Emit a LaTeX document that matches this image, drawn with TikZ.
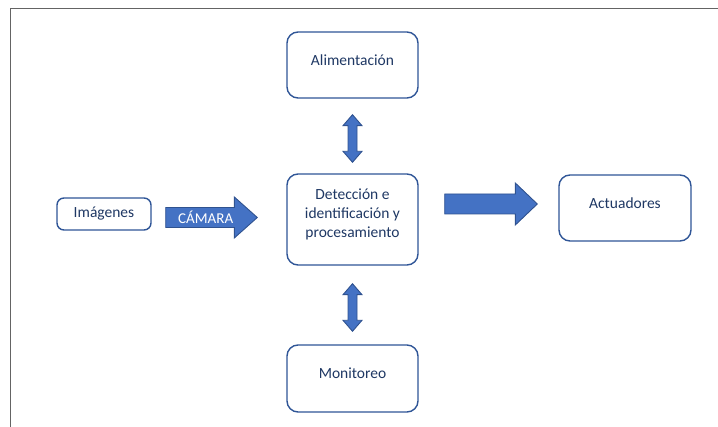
\documentclass[tikz,border=0pt]{standalone}
\usepackage{fontspec}
\setmainfont{Carlito}
\usetikzlibrary{calc}

\definecolor{boxline}{RGB}{47,85,151}
\definecolor{arrowfill}{RGB}{68,114,196}
\definecolor{arrowline}{RGB}{47,82,143}
\definecolor{labeltext}{RGB}{31,56,100}
\definecolor{framegray}{RGB}{100,100,100}

% horizontal block arrow: start, tip, half body, half head, head length
\newcommand{\blockarrowH}[5]{%
  \draw[blockarrow] let \p1=(#1), \p2=(#2) in
    (\x1,\y1+#3) -- (\x2-#5,\y1+#3) -- (\x2-#5,\y1+#4) -- (\x2,\y1)
    -- (\x2-#5,\y1-#4) -- (\x2-#5,\y1-#3) -- (\x1,\y1-#3) -- cycle;}
% vertical double block arrow: top tip, bottom tip, half body, half head, head length
\newcommand{\blockarrowV}[5]{%
  \draw[blockarrow] let \p1=(#1), \p2=(#2) in
    (\x1,\y1) -- (\x1+#4,\y1-#5) -- (\x1+#3,\y1-#5) -- (\x1+#3,\y2+#5)
    -- (\x1+#4,\y2+#5) -- (\x1,\y2) -- (\x1-#4,\y2+#5) -- (\x1-#3,\y2+#5)
    -- (\x1-#3,\y1-#5) -- (\x1-#4,\y1-#5) -- cycle;}

\begin{document}
\begin{tikzpicture}[x=1pt,y=-1pt,
  box/.style={draw=boxline, line width=1.4pt, rounded corners=11pt,
    fill=white, inner sep=0pt},
  lbl/.style={text=labeltext, font=\fontsize{15.5}{19}\selectfont,
    align=center, inner sep=0pt},
  blockarrow/.style={fill=arrowfill, draw=arrowline, line width=0.9pt},
  frame/.style={draw=framegray, line width=1.6pt}]

\useasboundingbox (0,0) rectangle (718,427);

% page frame (left and top edges)
\draw[frame] (10.5,427) -- (10.5,8.5) -- (718,8.5);

% blocks
\node[box, minimum width=131pt, minimum height=66pt] (ali) at (352.5,65) {};
\node[box, minimum width=131pt, minimum height=91pt] (det) at (352.5,219.5) {};
\node[box, minimum width=131pt, minimum height=67pt] (mon) at (352.5,378.5) {};
\node[box, minimum width=94pt, minimum height=32pt, rounded corners=7pt] (img) at (104,214) {};
\node[box, minimum width=132pt, minimum height=66pt] (act) at (625,208) {};

% block texts
\node[lbl] (aliT) at ([yshift=5pt]ali.center) {Alimentación};
\node[lbl] (detT) at ([yshift=5pt]det.center) {Detección e\\identificación y\\procesamiento};
\node[lbl] (monT) at ([yshift=5pt]mon.center) {Monitoreo};
\node[lbl] (imgT) at (img.center) {Imágenes};
\node[lbl] (actT) at ([yshift=5pt]act.center) {Actuadores};

% connector end points
\coordinate (camS) at ($(img.east)+(14,3.5)$);
\coordinate (camE) at ($(det.west |- camS)+(-29,0)$);
\coordinate (outS) at ($(det.east)+(26,-15.5)$);
\coordinate (outE) at ($(act.west |- outS)+(-21,0)$);
\coordinate (upT) at ($(ali.south)+(0,16)$);
\coordinate (upB) at ($(det.north)+(0,-11)$);
\coordinate (dnT) at ($(det.south)+(0,18)$);
\coordinate (dnB) at ($(mon.north)+(0,-13)$);

% connectors
\blockarrowH{camS}{camE}{10pt}{20.5pt}{23pt}
\node[text=white, font=\fontsize{15}{18}\selectfont, inner sep=0pt] (camT)
  at ($(camS)+(40,0)$) {CÁMARA};
\blockarrowH{outS}{outE}{10pt}{21pt}{22pt}
\blockarrowV{upT}{upB}{4.5pt}{9.5pt}{11pt}
\blockarrowV{dnT}{dnB}{4.5pt}{9.5pt}{11pt}

\end{tikzpicture}
\end{document}
